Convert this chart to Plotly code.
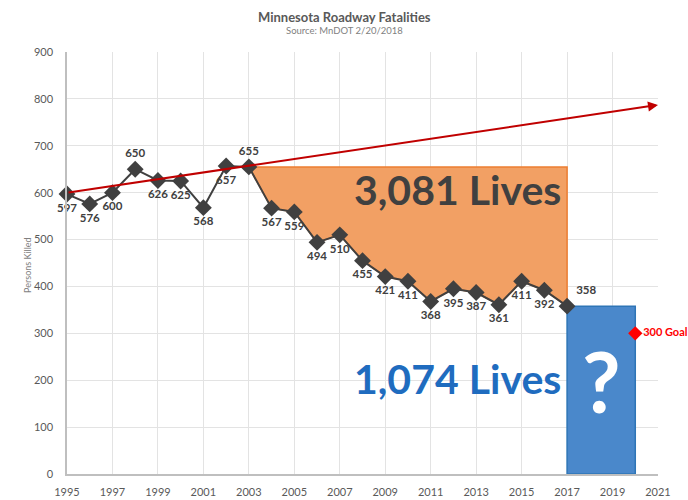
import plotly.graph_objects as go

# Minnesota roadway fatalities (MnDOT, 2/20/2018)
years = list(range(1995, 2018))
killed = [597, 576, 600, 650, 626, 625, 568, 657, 655, 567, 559, 494, 510,
          455, 421, 411, 368, 395, 387, 361, 411, 392, 358]
label_pos = ["bottom center", "bottom center", "bottom center", "top center",
             "bottom center", "bottom center", "bottom center", "bottom center",
             "top center", "bottom center", "bottom center", "bottom center",
             "bottom center", "bottom center", "bottom center", "bottom center",
             "bottom center", "bottom center", "bottom center", "bottom center",
             "bottom center", "bottom center", "top right"]

peak_year = 2003          # baseline year for "lives saved"
goal_year = 2020
goal_value = 300
trend_start = (1995, 600)
trend_end = (2021, 787)

x_ticks = list(range(1995, 2022, 2))
y_ticks = list(range(0, 1000, 100))

FONT = "Lato"
DARK = "#404040"
GREY = "#595959"

i0 = years.index(peak_year)
peak_val = killed[i0]
saved_years = years[i0:]
saved_vals = killed[i0:]
last_year, last_val = years[-1], killed[-1]

lives_saved = sum(peak_val - v for v in killed[i0 + 1:])
lives_future = last_val * (goal_year - last_year)

fig = go.Figure()

# Orange area: gap between the 2003 level and actual fatalities
fig.add_trace(go.Scatter(
    x=[peak_year, last_year] + saved_years[::-1],
    y=[peak_val, peak_val] + saved_vals[::-1],
    fill="toself", fillcolor="#F2A064", mode="lines",
    line=dict(color="#ED7D31", width=1.5), hoverinfo="skip", showlegend=False))

# Blue block: future years held at the latest level
fig.add_trace(go.Scatter(
    x=[last_year, last_year, goal_year, goal_year, last_year],
    y=[0, last_val, last_val, 0, 0],
    fill="toself", fillcolor="#4A88CB", mode="lines",
    line=dict(color="#2E75B6", width=1.5), hoverinfo="skip", showlegend=False))

# Fatality series with value labels
fig.add_trace(go.Scatter(
    x=years, y=killed, mode="lines+markers+text",
    line=dict(color=DARK, width=2),
    marker=dict(symbol="diamond", size=13, color=DARK),
    text=[f"<b>{v}</b>" for v in killed], textposition=label_pos,
    textfont=dict(family=FONT, size=11.5, color=DARK),
    cliponaxis=False, showlegend=False))

# Goal marker
fig.add_trace(go.Scatter(
    x=[goal_year], y=[goal_value], mode="markers+text",
    marker=dict(symbol="diamond", size=11, color="#FF0000"),
    text=[f"<b>{goal_value} Goal</b>"], textposition="middle right",
    textfont=dict(family=FONT, size=11, color="#FF0000"),
    cliponaxis=False, showlegend=False))

annotations = [
    # Trend arrow
    dict(x=trend_end[0], y=trend_end[1], ax=trend_start[0], ay=trend_start[1],
         xref="x", yref="y", axref="x", ayref="y", text="",
         showarrow=True, arrowhead=2, arrowsize=1, arrowwidth=2,
         arrowcolor="#C00000"),
    dict(x=2012.2, y=606, xref="x", yref="y", showarrow=False,
         text=f"<b>{lives_saved:,} Lives</b>",
         font=dict(family=FONT, size=41, color=DARK)),
    dict(x=2012.2, y=204, xref="x", yref="y", showarrow=False,
         text=f"<b>{lives_future:,} Lives</b>",
         font=dict(family=FONT, size=41, color="#1F6CBF")),
    dict(x=(last_year + goal_year) / 2, y=200, xref="x", yref="y",
         showarrow=False, text="<b>?</b>",
         font=dict(family=FONT, size=84, color="white")),
    dict(x=0.47, y=1.083, xref="paper", yref="paper", yanchor="middle",
         showarrow=False, text="<b>Minnesota Roadway Fatalities</b>",
         font=dict(family=FONT, size=13, color=GREY)),
    dict(x=0.47, y=1.050, xref="paper", yref="paper", yanchor="middle",
         showarrow=False, text="Source: MnDOT 2/20/2018",
         font=dict(family=FONT, size=9.5, color="#7F7F7F")),
    # Y axis title
    dict(x=-0.068, y=0.495, xref="paper", yref="paper", textangle=-90,
         xanchor="center", yanchor="middle", showarrow=False,
         text="Persons Killed", font=dict(family=FONT, size=9, color="#7F7F7F")),
]

fig.update_layout(
    width=688, height=500,
    margin=dict(l=67, r=30, t=52, b=26),
    paper_bgcolor="white", plot_bgcolor="white",
    font=dict(family=FONT, color=GREY),
    annotations=annotations,
)

fig.update_xaxes(range=[1995, 2021], tickvals=x_ticks, ticktext=[str(t) for t in x_ticks],
                 showgrid=True, gridcolor="#E3E3E3", gridwidth=1,
                 showline=True, linecolor="#BFBFBF", linewidth=1.5, zeroline=False,
                 ticks="", ticklabelstandoff=7, automargin=False,
                 tickfont=dict(family=FONT, size=11, color=GREY))
fig.update_yaxes(range=[0, 900], tickvals=y_ticks,
                 showgrid=True, gridcolor="#E3E3E3", gridwidth=1,
                 showline=True, linecolor="#BFBFBF", linewidth=1.5, zeroline=False,
                 ticks="", ticklabelstandoff=10, automargin=False,
                 tickfont=dict(family=FONT, size=11, color=GREY))

fig.write_html("out.html")
